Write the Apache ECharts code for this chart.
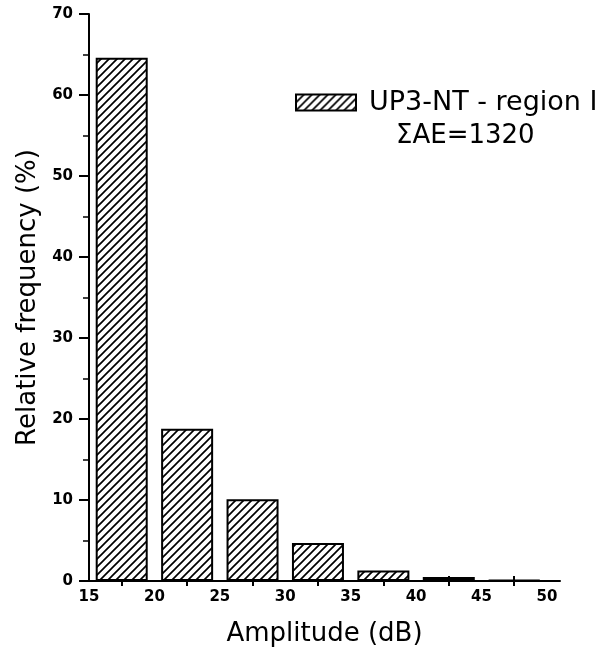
<!DOCTYPE html>
<html>
<head>
<meta charset="utf-8">
<script src="https://cdn.jsdelivr.net/npm/echarts@6/dist/echarts.min.js"></script>
<style>
html,body{margin:0;padding:0;background:#fff;}
#chart{width:608px;height:653px;}
</style>
</head>
<body>
<div id="chart"></div>
<script>
// Data
const binCenters = [17.5, 22.5, 27.5, 32.5, 37.5, 42.5, 47.5];
const frequencies = [64.6, 18.8, 10.1, 4.7, 1.3, 0.5, 0.1];
const xTickLabels = [15, 20, 25, 30, 35, 40, 45, 50];
const xTickMarks = [17.5, 22.5, 27.5, 32.5, 37.5, 42.5, 47.5];
const yTickLabels = [0, 10, 20, 30, 40, 50, 60, 70];
const seriesName = 'UP3-NT - region I';
const annotation = '\u03A3AE=1320';

function hatch() {
  const s = 8;
  const c = document.createElement('canvas');
  c.width = s; c.height = s;
  const g = c.getContext('2d');
  g.fillStyle = '#fff';
  g.fillRect(0, 0, s, s);
  g.strokeStyle = '#000';
  g.lineWidth = 1.7;
  g.beginPath();
  g.moveTo(-1, s + 1); g.lineTo(s + 1, -1);
  g.moveTo(-1, 1); g.lineTo(1, -1);
  g.moveTo(s - 1, s + 1); g.lineTo(s + 1, s - 1);
  g.stroke();
  return c;
}
const pattern = { image: hatch(), repeat: 'repeat' };

const chart = echarts.init(document.getElementById('chart'));
const font = 'DejaVu Sans';
chart.setOption({
  animation: false,
  backgroundColor: '#fff',
  grid: { left: 89, right: 48, top: 14, bottom: 72, containLabel: false },
  legend: {
    data: [seriesName],
    left: 290, top: 84,
    itemWidth: 60, itemHeight: 16,
    icon: 'rect',
    textStyle: { fontFamily: font, fontSize: 27, color: '#000', padding: [0, 0, 0, 8] }
  },
  graphic: [{
    type: 'text', left: 396, top: 123,
    style: { text: annotation, fontFamily: font, fontSize: 26, fill: '#000' }
  }],
  xAxis: [{
    type: 'value', min: 15, max: 51, interval: 5,
    position: 'bottom',
    axisLine: { show: true, onZero: false, lineStyle: { color: '#000', width: 2 } },
    axisTick: { show: true, customValues: xTickMarks, inside: false, length: 5, lineStyle: { color: '#000', width: 2 } },
    axisLabel: { customValues: xTickLabels, margin: 9, fontFamily: font, fontWeight: 'bold', fontSize: 15, color: '#000' },
    splitLine: { show: false },
    name: 'Amplitude (dB)', nameLocation: 'middle', nameGap: 40,
    nameTextStyle: { fontFamily: font, fontSize: 26, color: '#000', verticalAlign: 'top' }
  }, {
    type: 'value', min: 15, max: 51, interval: 5,
    position: 'bottom',
    axisLine: { show: false },
    axisTick: { show: true, customValues: xTickMarks, inside: true, length: 5, lineStyle: { color: '#000', width: 2 } },
    axisLabel: { show: false },
    splitLine: { show: false }
  }],
  yAxis: {
    type: 'value', min: 0, max: 70, interval: 10,
    axisLine: { show: true, lineStyle: { color: '#000', width: 2 } },
    axisTick: { show: true, length: 10, lineStyle: { color: '#000', width: 2 } },
    minorTick: { show: true, splitNumber: 2, length: 6, lineStyle: { color: '#000', width: 1.5 } },
    axisLabel: { margin: 16, fontFamily: font, fontWeight: 'bold', fontSize: 15, color: '#000' },
    splitLine: { show: false },
    name: 'Relative frequency (%)', nameLocation: 'middle', nameGap: 47,
    nameTextStyle: { fontFamily: font, fontSize: 26, color: '#000' }
  },
  series: [{
    name: seriesName,
    type: 'bar',
    xAxisIndex: 0,
    barWidth: 52,
    data: binCenters.map((x, i) => [x, frequencies[i]]),
    itemStyle: { color: pattern, borderColor: '#000', borderWidth: 2 }
  }]
});
</script>
</body>
</html>
